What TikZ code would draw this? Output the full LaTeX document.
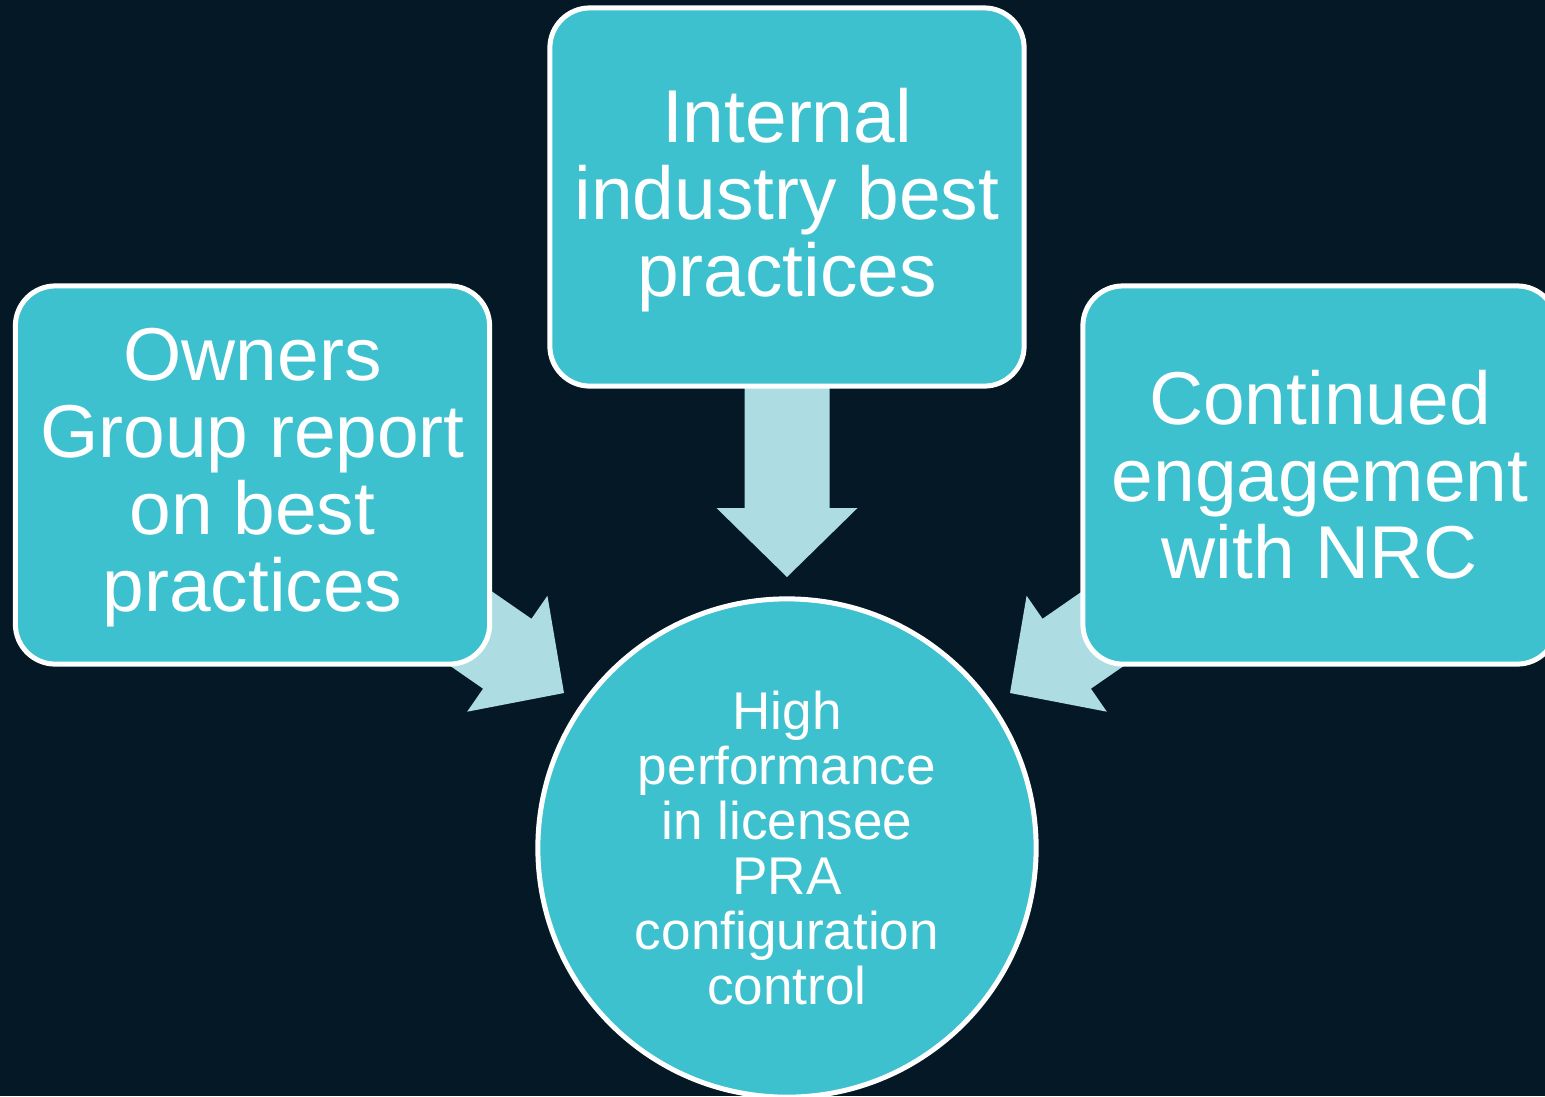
\documentclass[tikz,border=0pt]{standalone}
\usepackage{fontspec}
\setmainfont{Liberation Sans}
\definecolor{bgnavy}{RGB}{4,24,38}
\definecolor{boxteal}{RGB}{62,193,207}
\definecolor{arrowpale}{RGB}{173,221,227}
\tikzset{
  sourcebox/.style={draw=white, line width=0.05cm, fill=boxteal, rounded corners=0.4cm,
    minimum width=4.74cm, minimum height=3.78cm, inner sep=0pt, text=white, align=center,
    font=\fontsize{21.3pt}{21.9pt}\selectfont},
  boxlabel/.style={text=white, align=center, inner sep=0pt,
    font=\fontsize{21.3pt}{21.9pt}\selectfont},
  goalcircle/.style={draw=white, line width=0.05cm, fill=boxteal, circle,
    minimum size=4.98cm, inner sep=0pt, text=white, align=center,
    font=\fontsize{15.1pt}{15.6pt}\selectfont},
  blockarrow/.style={fill=arrowpale, draw=none}
}
\newcommand{\myblockarrow}[2]{%
  \begin{scope}[shift={#1}, rotate=#2]
    \fill[blockarrow] (0,0) -- (-69,70.5) -- (-69,42.5) -- (-200,42.5) -- (-200,-42.5) -- (-69,-42.5) -- (-69,-70.5) -- cycle;
  \end{scope}}
\begin{document}
\begin{tikzpicture}[x=0.01cm, y=-0.01cm]
  \useasboundingbox (0,0) rectangle (1545,1096);
  \fill[bgnavy] (0,0) rectangle (1545,1096);
  \clip (0,0) rectangle (1545,1096);
  % arrows (behind boxes)
  \coordinate (tipdown) at (787,577);
  \coordinate (tipleft) at (564,693);
  \coordinate (tipright) at (1010,693);
  \myblockarrow{(tipdown)}{-90}
  \myblockarrow{(tipleft)}{-34.7}
  \myblockarrow{(tipright)}{214.7}
  % boxes
  \node[sourcebox] (internal) at (787,197) {};
  \node[boxlabel] (internaltext) at (787,200) {Internal\\industry best\\practices};
  \node[sourcebox] (owners) at (252.5,475) {};
  \node[boxlabel] (ownerstext) at (252.5,478) {Owners\\Group report\\on best\\practices};
  \node[sourcebox] (nrc) at (1320,475) {Continued\\engagement\\with NRC};
  \node[goalcircle] (goal) at (787,848) {High\\performance\\in licensee\\PRA\\configuration\\control};
\end{tikzpicture}
\end{document}
